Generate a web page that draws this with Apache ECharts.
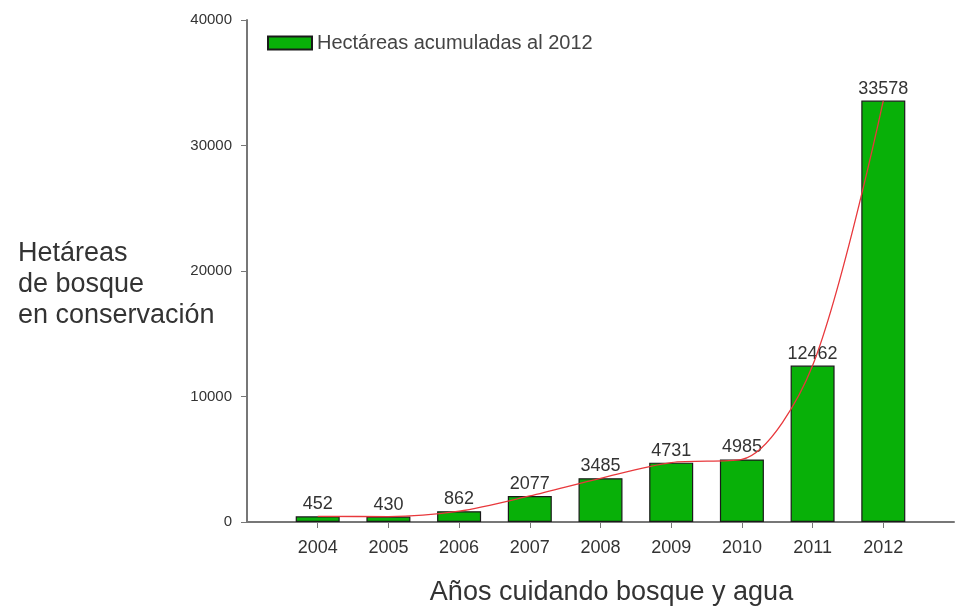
<!DOCTYPE html>
<html>
<head>
<meta charset="utf-8">
<script src="https://cdn.jsdelivr.net/npm/echarts@6/dist/echarts.min.js"></script>
<style>html,body{margin:0;padding:0;background:#fff}#c{width:961px;height:613px}</style>
</head>
<body>
<div id="c"></div>
<script>
var years = [2004, 2005, 2006, 2007, 2008, 2009, 2010, 2011, 2012];
var hectares = [452, 430, 862, 2077, 3485, 4731, 4985, 12462, 33578];
var yTicks = [0, 10000, 20000, 30000, 40000];
var seriesName = 'Hectáreas acumuladas al 2012';
var xTitle = 'Años cuidando bosque y agua';
var yTitle = 'Hetáreas\nde bosque\nen conservación';

var pairs = years.map(function (y, i) { return [y, hectares[i]]; });
var font = 'Liberation Sans, Arial, sans-serif';

var chart = echarts.init(document.getElementById('c'));
chart.setOption({
  animation: false,
  textStyle: { fontFamily: font },
  title: {
    text: yTitle, left: 13, top: 233,
    textStyle: { fontFamily: font, fontSize: 27, fontWeight: 'normal', color: '#333', lineHeight: 31 }
  },
  legend: {
    left: 262, top: 28, itemWidth: 44, itemHeight: 13, itemGap: 10,
    icon: 'rect',
    data: [seriesName],
    textStyle: { fontFamily: font, fontSize: 20, color: '#444' }
  },
  grid: { left: 247, right: 7, top: 20, bottom: 91, containLabel: false, outerBoundsMode: 'none' },
  xAxis: {
    type: 'value', min: 2003, max: 2013, interval: 1,
    name: xTitle, nameLocation: 'middle', nameGap: 57,
    nameTextStyle: { fontFamily: font, fontSize: 27, color: '#333', padding: [0, 0, 0, 22] },
    splitLine: { show: false },
    axisLine: { lineStyle: { color: '#777', width: 2 } },
    axisTick: { customValues: years, length: 6, lineStyle: { color: '#777' } },
    axisLabel: { customValues: years, fontSize: 18, color: '#333', margin: 17, formatter: function (v) { return String(v); } }
  },
  yAxis: {
    type: 'value', min: 0, max: 40000, interval: 10000,
    splitLine: { show: false },
    axisLine: { show: true, lineStyle: { color: '#777', width: 2 } },
    axisTick: { show: true, length: 6, lineStyle: { color: '#777' } },
    axisLabel: { fontSize: 15, color: '#333', margin: 15, formatter: function (v) { return String(v); } }
  },
  series: [
    {
      name: seriesName, type: 'bar', data: pairs, barWidth: 44,
      itemStyle: { color: '#08b008', borderColor: '#1a1a1a', borderWidth: 1.2 },
      label: { show: true, position: 'top', distance: 3, fontSize: 18, color: '#333', fontFamily: font,
        formatter: function (p) { return p.value[1]; } }
    },
    {
      name: 'curve', type: 'line', data: pairs, smooth: 0.3, symbol: 'none',
      lineStyle: { color: '#e8383c', width: 1.3 }, z: 5
    }
  ]
});
</script>
</body>
</html>
